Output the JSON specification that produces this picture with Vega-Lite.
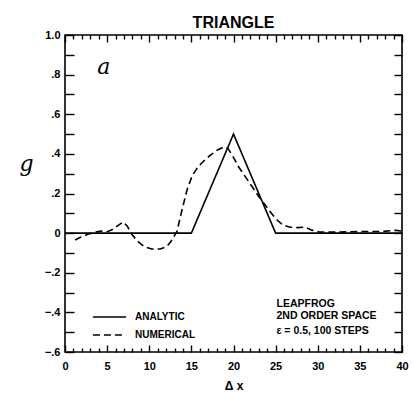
{
  "$schema": "https://vega.github.io/schema/vega-lite/v6.json",
  "autosize": {"type": "none"},
  "padding": {"left": 65, "top": 35, "right": 12, "bottom": 53},
  "width": 337,
  "height": 317,
  "background": "white",
  "config": {
    "view": {"stroke": "black", "strokeWidth": 1.6},
    "font": "Liberation Sans",
    "axis": {"domain": false, "grid": false, "tickColor": "black", "tickWidth": 1.4, "labelColor": "black", "titleColor": "black"}
  },
  "title": {"text": "TRIANGLE", "fontSize": 16, "fontWeight": "bold", "font": "Liberation Sans", "offset": -2, "color": "black", "anchor": "middle"},
  "datasets": {
    "curves": [
      {"x": 0, "q": 0, "series": "ANALYTIC"},
      {"x": 15, "q": 0, "series": "ANALYTIC"},
      {"x": 20, "q": 0.5, "series": "ANALYTIC"},
      {"x": 25, "q": 0, "series": "ANALYTIC"},
      {"x": 40, "q": 0, "series": "ANALYTIC"},
      {"x": 1.2, "q": -0.035, "series": "NUMERICAL"},
      {"x": 1.9, "q": -0.02, "series": "NUMERICAL"},
      {"x": 2.7, "q": -0.006, "series": "NUMERICAL"},
      {"x": 3.5, "q": 0.004, "series": "NUMERICAL"},
      {"x": 4.3, "q": 0.01, "series": "NUMERICAL"},
      {"x": 5.1, "q": 0.008, "series": "NUMERICAL"},
      {"x": 5.8, "q": 0.022, "series": "NUMERICAL"},
      {"x": 6.4, "q": 0.042, "series": "NUMERICAL"},
      {"x": 6.9, "q": 0.056, "series": "NUMERICAL"},
      {"x": 7.4, "q": 0.035, "series": "NUMERICAL"},
      {"x": 7.9, "q": -0.005, "series": "NUMERICAL"},
      {"x": 8.6, "q": -0.04, "series": "NUMERICAL"},
      {"x": 9.4, "q": -0.068, "series": "NUMERICAL"},
      {"x": 10.3, "q": -0.08, "series": "NUMERICAL"},
      {"x": 11.3, "q": -0.08, "series": "NUMERICAL"},
      {"x": 12.1, "q": -0.068, "series": "NUMERICAL"},
      {"x": 12.7, "q": -0.035, "series": "NUMERICAL"},
      {"x": 13.3, "q": 0.01, "series": "NUMERICAL"},
      {"x": 13.9, "q": 0.12, "series": "NUMERICAL"},
      {"x": 14.5, "q": 0.22, "series": "NUMERICAL"},
      {"x": 15.1, "q": 0.29, "series": "NUMERICAL"},
      {"x": 15.8, "q": 0.335, "series": "NUMERICAL"},
      {"x": 16.5, "q": 0.365, "series": "NUMERICAL"},
      {"x": 17.3, "q": 0.395, "series": "NUMERICAL"},
      {"x": 18.1, "q": 0.42, "series": "NUMERICAL"},
      {"x": 18.9, "q": 0.435, "series": "NUMERICAL"},
      {"x": 19.3, "q": 0.43, "series": "NUMERICAL"},
      {"x": 19.9, "q": 0.39, "series": "NUMERICAL"},
      {"x": 20.6, "q": 0.335, "series": "NUMERICAL"},
      {"x": 21.4, "q": 0.285, "series": "NUMERICAL"},
      {"x": 22.2, "q": 0.235, "series": "NUMERICAL"},
      {"x": 23.0, "q": 0.185, "series": "NUMERICAL"},
      {"x": 23.8, "q": 0.14, "series": "NUMERICAL"},
      {"x": 24.5, "q": 0.1, "series": "NUMERICAL"},
      {"x": 25.2, "q": 0.065, "series": "NUMERICAL"},
      {"x": 25.9, "q": 0.04, "series": "NUMERICAL"},
      {"x": 26.7, "q": 0.03, "series": "NUMERICAL"},
      {"x": 27.6, "q": 0.028, "series": "NUMERICAL"},
      {"x": 28.5, "q": 0.03, "series": "NUMERICAL"},
      {"x": 29.3, "q": 0.015, "series": "NUMERICAL"},
      {"x": 30.2, "q": 0.006, "series": "NUMERICAL"},
      {"x": 32.5, "q": 0.005, "series": "NUMERICAL"},
      {"x": 35.0, "q": 0.008, "series": "NUMERICAL"},
      {"x": 37.5, "q": 0.008, "series": "NUMERICAL"},
      {"x": 39.3, "q": 0.014, "series": "NUMERICAL"},
      {"x": 40, "q": 0.01, "series": "NUMERICAL"}
    ],
    "notes": [
      {"x": 25.1, "q": -0.36, "label": "LEAPFROG"},
      {"x": 25.1, "q": -0.42, "label": "2ND ORDER SPACE"},
      {"x": 25.1, "q": -0.495, "label": "ε = 0.5, 100 STEPS"}
    ],
    "panel": [
      {"x": 4.6, "q": 0.84, "label": "a"}
    ]
  },
  "layer": [
    {
      "data": {"name": "curves"},
      "mark": {"type": "line", "color": "black", "strokeWidth": 1.6},
      "encoding": {
        "x": {
          "field": "x", "type": "quantitative",
          "scale": {"domain": [0, 40], "nice": false, "zero": false},
          "axis": {
            "orient": "bottom",
            "values": [0,1,2,3,4,5,6,7,8,9,10,11,12,13,14,15,16,17,18,19,20,21,22,23,24,25,26,27,28,29,30,31,32,33,34,35,36,37,38,39,40],
            "labelExpr": "datum.value % 5 === 0 ? datum.label : ''",
            "tickSize": {"condition": {"test": "datum.value % 5 === 0", "value": -7}, "value": -4},
            "labelPadding": 15,
            "labelFontSize": 11, "labelFontWeight": "bold", "labelFont": "Liberation Sans",
            "labelFlush": false,
            "title": "Δ x", "titleFontSize": 12, "titleFontWeight": "bold", "titlePadding": 9, "titleFont": "Liberation Sans"
          }
        },
        "y": {
          "field": "q", "type": "quantitative",
          "scale": {"domain": [-0.6, 1.0], "nice": false, "zero": false},
          "axis": {
            "orient": "left",
            "values": [-0.6,-0.5,-0.4,-0.3,-0.2,-0.1,0,0.1,0.2,0.3,0.4,0.5,0.6,0.7,0.8,0.9,1.0],
            "labelExpr": "round(datum.value*10) % 2 !== 0 ? '' : (abs(datum.value) < 0.01 ? '0' : (datum.value >= 0.99 ? '1.0' : replace(format(datum.value, '.1f'), '0.', '.')))",
            "tickSize": -9,
            "labelPadding": 14,
            "labelFontSize": 11, "labelFontWeight": "bold", "labelFont": "Liberation Sans",
            "labelFlush": false,
            "title": "g", "titleAngle": 0, "titleFont": "DejaVu Serif", "titleFontStyle": "italic", "titleFontWeight": "normal", "titleFontSize": 22,
            "titleX": -39, "titleY": 128, "titleAlign": "center", "titleBaseline": "middle"
          }
        },
        "strokeDash": {
          "field": "series", "type": "nominal",
          "scale": {"domain": ["ANALYTIC", "NUMERICAL"], "range": [[1, 0], [7, 4]]},
          "legend": {
            "orient": "none", "legendX": 27, "legendY": 276,
            "title": null, "symbolType": "stroke", "symbolSize": 1100, "symbolStrokeWidth": 1.6,
            "symbolStrokeColor": "black", "clipHeight": 12,
            "labelFontSize": 10, "labelFontWeight": "bold", "labelFont": "Liberation Sans", "labelColor": "black",
            "labelOffset": 8, "rowPadding": 6, "padding": 0
          }
        }
      }
    },
    {
      "data": {"name": "curves"},
      "mark": {"type": "point", "opacity": 0},
      "encoding": {
        "x": {"field": "x", "type": "quantitative",
          "axis": {"orient": "top", "values": [0,1,2,3,4,5,6,7,8,9,10,11,12,13,14,15,16,17,18,19,20,21,22,23,24,25,26,27,28,29,30,31,32,33,34,35,36,37,38,39,40],
            "labels": false, "title": null,
            "tickSize": {"condition": {"test": "datum.value % 5 === 0", "value": -7}, "value": -4}}},
        "y": {"field": "q", "type": "quantitative",
          "axis": {"orient": "right", "values": [-0.6,-0.5,-0.4,-0.3,-0.2,-0.1,0,0.1,0.2,0.3,0.4,0.5,0.6,0.7,0.8,0.9,1.0],
            "labels": false, "title": null, "tickSize": -8}}
      }
    },
    {
      "data": {"name": "notes"},
      "mark": {"type": "text", "align": "left", "baseline": "middle", "font": "Liberation Sans", "fontSize": 10.5, "fontWeight": "bold", "color": "black"},
      "encoding": {
        "x": {"field": "x", "type": "quantitative", "axis": null},
        "y": {"field": "q", "type": "quantitative", "axis": null},
        "text": {"field": "label"}
      }
    },
    {
      "data": {"name": "panel"},
      "mark": {"type": "text", "align": "center", "baseline": "middle", "font": "DejaVu Serif", "fontStyle": "italic", "fontSize": 22, "color": "black"},
      "encoding": {
        "x": {"field": "x", "type": "quantitative", "axis": null},
        "y": {"field": "q", "type": "quantitative", "axis": null},
        "text": {"field": "label"}
      }
    }
  ]
}
